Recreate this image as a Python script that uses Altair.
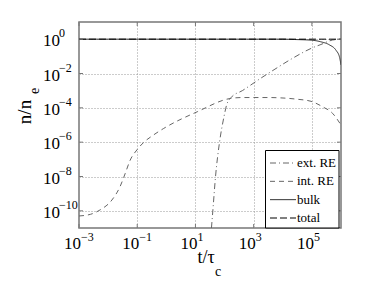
import altair as alt
import pandas as pd

# ---- values (log10 of t/tau_c and n/n_e) ----
total_logt = [-3.0, 6.0]
total_logn = [0.0, 0.0]

bulk_logt = [-3.0, 4.0, 4.4, 5.0, 5.3, 5.6, 5.83, 5.95, 6.0]
bulk_logn = [0.0, 0.0, -0.02, -0.06, -0.15, -0.33, -0.65, -1.05, -1.5]

ext_logt = [1.55, 1.60, 1.69, 1.83, 1.98, 2.07, 2.23, 2.61, 3.24, 3.70, 4.3, 4.97, 5.31, 5.71, 6.0]
ext_logn = [-11.0, -9.94, -8.0, -5.97, -4.52, -3.84, -3.39, -3.0, -2.28, -1.78, -1.15, -0.54, -0.31, -0.05, 0.0]

int_logt = [-3.0, -2.6, -2.28, -1.87, -1.59, -1.41, -1.24, -1.01, -0.8, -0.44, -0.09, 1.06, 2.21,
            2.6, 3.5, 3.93, 4.5, 4.97, 5.37, 5.71, 6.0]
int_logn = [-10.3, -10.2, -9.95, -9.37, -8.59, -7.81, -7.04, -6.45, -6.05, -5.58, -5.2, -4.23, -3.45,
            -3.4, -3.4, -3.42, -3.5, -3.62, -3.94, -4.32, -5.0]

series_order = ["ext. RE", "int. RE", "bulk", "total"]
legend_rank = [0, 1, 2, 3]

xtick_vals = [1e-3, 1e-1, 1e1, 1e3, 1e5]
xtick_exps = ["\u22123", "\u22121", "1", "3", "5"]
ytick_vals = [1e0, 1e-2, 1e-4, 1e-6, 1e-8, 1e-10]
ytick_exps = ["0", "\u22122", "\u22124", "\u22126", "\u22128", "\u221210"]

rows = []
for name, lt, ln in [("ext. RE", ext_logt, ext_logn), ("int. RE", int_logt, int_logn),
                     ("bulk", bulk_logt, bulk_logn), ("total", total_logt, total_logn)]:
    for a, b in zip(lt, ln):
        rows.append({"series": name, "t": 10.0 ** a, "n": 10.0 ** b})
df = pd.DataFrame(rows)

FONT = "Liberation Serif"
W, H = 262, 206

xscale = alt.Scale(type="log", domain=[1e-3, 1e6], nice=False)
yscale = alt.Scale(type="log", domain=[1e-11, 1e1], nice=False)

col_scale = alt.Scale(domain=series_order, range=["#666666", "#666666", "#333333", "#000000"])
dash_scale = alt.Scale(domain=series_order, range=[[6, 3, 1, 3], [5, 4], [1, 0], [7, 3]])
sw_scale = alt.Scale(domain=series_order, range=[1, 1, 1, 2.7])

lines = alt.Chart(df).mark_line(clip=True, interpolate="monotone").encode(
    x=alt.X("t:Q", scale=xscale,
            axis=alt.Axis(values=xtick_vals, grid=True, gridDash=[1, 2], gridColor="#999",
                          labels=False, ticks=False, domain=False, title=None)),
    y=alt.Y("n:Q", scale=yscale,
            axis=alt.Axis(values=ytick_vals, grid=True, gridDash=[1, 2], gridColor="#999",
                          labels=False, ticks=False, domain=False, title=None)),
    color=alt.Color("series:N", scale=col_scale, legend=None),
    strokeDash=alt.StrokeDash("series:N", scale=dash_scale, legend=None),
    strokeWidth=alt.StrokeWidth("series:N", scale=sw_scale, legend=None),
    order=alt.Order("series:N"),
    detail="series:N",
)

xt = pd.DataFrame({"v": xtick_vals, "exp": xtick_exps})
yt = pd.DataFrame({"v": ytick_vals, "exp": ytick_exps})

# small inward ticks on all four sides of the frame
tick_col = "#777777"
xtick_b = alt.Chart(xt).mark_rule(color=tick_col).encode(
    x=alt.X("v:Q", scale=xscale, axis=None), y=alt.value(H), y2=alt.value(H - 4))
xtick_t = alt.Chart(xt).mark_rule(color=tick_col).encode(
    x=alt.X("v:Q", scale=xscale, axis=None), y=alt.value(0), y2=alt.value(4))
ytick_l = alt.Chart(yt).mark_rule(color=tick_col).encode(
    y=alt.Y("v:Q", scale=yscale, axis=None), x=alt.value(0), x2=alt.value(4))
ytick_r = alt.Chart(yt).mark_rule(color=tick_col).encode(
    y=alt.Y("v:Q", scale=yscale, axis=None), x=alt.value(W - 4), x2=alt.value(W))

# ---- legend drawn as marks ----
legdf = pd.DataFrame({"series": series_order, "rank": legend_rank})
leg_y = alt.Y("rank:Q", scale=alt.Scale(domain=[0, 3], range=[141, 196]), axis=None)
leg_box = alt.Chart(legdf.head(1)).mark_rect(fill="white", stroke="black", strokeWidth=1).encode(
    x=alt.value(186.5), x2=alt.value(260), y=alt.value(128.5), y2=alt.value(206))
leg_lines = alt.Chart(legdf).mark_rule().encode(
    x=alt.value(191), x2=alt.value(217), y=leg_y,
    color=alt.Color("series:N", scale=col_scale, legend=None),
    strokeDash=alt.StrokeDash("series:N", scale=dash_scale, legend=None),
    strokeWidth=alt.StrokeWidth("series:N", scale=sw_scale, legend=None),
)
leg_text = alt.Chart(legdf).mark_text(align="left", baseline="middle", font=FONT,
                                      fontSize=13, color="black").encode(
    x=alt.value(218), y=leg_y, text="series:N")

x_base = alt.Chart(xt).mark_text(align="right", baseline="middle", font=FONT, fontSize=17,
                                 dx=2, color="black").encode(
    x=alt.X("v:Q", scale=xscale, axis=None), y=alt.value(H + 16), text=alt.value("10"))
x_exp = alt.Chart(xt).mark_text(align="left", baseline="middle", font=FONT, fontSize=12,
                                dx=2, color="black").encode(
    x=alt.X("v:Q", scale=xscale, axis=None), y=alt.value(H + 9), text="exp:N")

y_base = alt.Chart(yt).mark_text(align="left", baseline="middle", font=FONT, fontSize=17,
                                 dy=2, color="black").encode(
    y=alt.Y("v:Q", scale=yscale, axis=None), x=alt.value(-36), text=alt.value("10"))
y_exp = alt.Chart(yt).mark_text(align="left", baseline="middle", font=FONT, fontSize=12,
                                dy=-6, color="black").encode(
    y=alt.Y("v:Q", scale=yscale, axis=None), x=alt.value(-20), text="exp:N")

titles = pd.DataFrame({"lab": ["t/\u03c4"]})
xt_main = alt.Chart(titles).mark_text(align="center", baseline="middle", font=FONT,
                                      fontSize=18, color="black").encode(
    x=alt.value(127), y=alt.value(236), text=alt.value("t/\u03c4"))
xt_sub = alt.Chart(titles).mark_text(align="center", baseline="middle", font=FONT,
                                     fontSize=14, color="black").encode(
    x=alt.value(139), y=alt.value(250), text=alt.value("c"))
yt_main = alt.Chart(titles).mark_text(align="center", baseline="middle", font=FONT,
                                      fontSize=19, angle=270, color="black").encode(
    x=alt.value(-54), y=alt.value(90), text=alt.value("n/n"))
yt_sub = alt.Chart(titles).mark_text(align="center", baseline="middle", font=FONT,
                                     fontSize=14, angle=270, color="black").encode(
    x=alt.value(-44), y=alt.value(69), text=alt.value("e"))

chart = alt.layer(lines, xtick_b, xtick_t, ytick_l, ytick_r, leg_box, leg_lines, leg_text,
                  x_base, x_exp, y_base, y_exp,
                  xt_main, xt_sub, yt_main, yt_sub).properties(
    width=W, height=H,
    autosize=alt.AutoSizeParams(type="none"),
    padding={"left": 71, "top": 14, "right": 20, "bottom": 52},
).configure_view(stroke="#777777", strokeWidth=1.5).resolve_scale(x="independent", y="independent")

chart.save("out.html", embed_options={"renderer": "svg", "actions": False})
